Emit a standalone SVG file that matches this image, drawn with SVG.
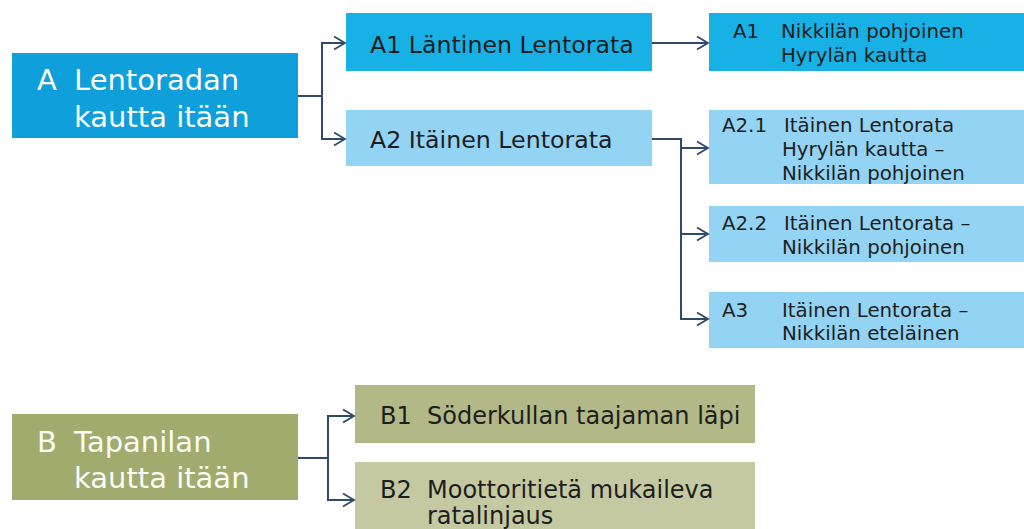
<svg xmlns="http://www.w3.org/2000/svg" width="1024" height="529" viewBox="0 0 1024 529">
<style>
text{font-family:"DejaVu Sans","Liberation Sans",sans-serif;fill:#1e1e1e}
.big{font-size:29px;fill:#fbfbf6}
.mid{font-size:23.7px}
.midb{font-size:24px}
.sm{font-size:19.8px}
.conn{fill:none;stroke:#2f4a6b;stroke-width:2}
</style>
<defs>
<marker id="ah" markerWidth="16" markerHeight="16" refX="13" refY="8" orient="auto" markerUnits="userSpaceOnUse">
<path d="M2,1.5 L13,8 L2,14.5" fill="none" stroke="#2f4a6b" stroke-width="1.8"/>
</marker>
</defs>
<rect width="1024" height="529" fill="#ffffff"/>
<g id="nodeA"><rect x="12" y="53" width="286" height="85" fill="#0f9fdb"/><text class="big" x="37" y="90">A</text><text class="big" x="74" y="90">Lentoradan</text><text class="big" x="74" y="127">kautta itään</text></g>
<g id="nodeA1"><rect x="346" y="13" width="306" height="58" fill="#17b1e6"/><text class="mid" x="370" y="53">A1 Läntinen Lentorata</text></g>
<g id="nodeA2"><rect x="346" y="110" width="306" height="56" fill="#93d3f3"/><text class="mid" x="370" y="148">A2 Itäinen Lentorata</text></g>
<g id="nodeA1b"><rect x="709" y="13" width="315" height="58" fill="#17b1e6"/><text class="sm" x="733" y="38">A1</text><text class="sm" x="781" y="38">Nikkilän pohjoinen</text><text class="sm" x="781" y="62">Hyrylän kautta</text></g>
<g id="nodeA21"><rect x="709" y="110" width="315" height="74" fill="#93d3f3"/><text class="sm" x="722" y="132">A2.1</text><text class="sm" x="784" y="132">Itäinen Lentorata</text><text class="sm" x="782" y="156">Hyrylän kautta –</text><text class="sm" x="782" y="180">Nikkilän pohjoinen</text></g>
<g id="nodeA22"><rect x="709" y="206" width="315" height="56" fill="#93d3f3"/><text class="sm" x="722" y="230">A2.2</text><text class="sm" x="784" y="230">Itäinen Lentorata –</text><text class="sm" x="782" y="254">Nikkilän pohjoinen</text></g>
<g id="nodeA3"><rect x="709" y="292" width="315" height="56" fill="#93d3f3"/><text class="sm" x="722" y="317">A3</text><text class="sm" x="782" y="317">Itäinen Lentorata –</text><text class="sm" x="782" y="340">Nikkilän eteläinen</text></g>
<g id="nodeB"><rect x="12" y="414" width="286" height="86" fill="#a2ab6e"/><text class="big" x="37" y="452">B</text><text class="big" x="74" y="452">Tapanilan</text><text class="big" x="74" y="488">kautta itään</text></g>
<g id="nodeB1"><rect x="355" y="385" width="400" height="58" fill="#b2b986"/><text class="midb" x="380" y="424">B1</text><text class="midb" x="427" y="424">Söderkullan taajaman läpi</text></g>
<g id="nodeB2"><rect x="355" y="462" width="400" height="67" fill="#c4c9a1"/><text class="midb" x="380" y="498">B2</text><text class="midb" x="427" y="498">Moottoritietä mukaileva</text><text class="midb" x="427" y="524">ratalinjaus</text></g>
<g id="connectors">
<path class="conn" d="M298,96 H322 V43 H345" marker-end="url(#ah)"/>
<path class="conn" d="M322,96 V139 H345" marker-end="url(#ah)"/>
<path class="conn" d="M652,43 H708" marker-end="url(#ah)"/>
<path class="conn" d="M652,139 H681 V148 H708" marker-end="url(#ah)"/>
<path class="conn" d="M681,148 V234 H708" marker-end="url(#ah)"/>
<path class="conn" d="M681,234 V319 H708" marker-end="url(#ah)"/>
<path class="conn" d="M298,458 H328 V416 H354" marker-end="url(#ah)"/>
<path class="conn" d="M328,458 V500 H354" marker-end="url(#ah)"/>
</g>
</svg>
